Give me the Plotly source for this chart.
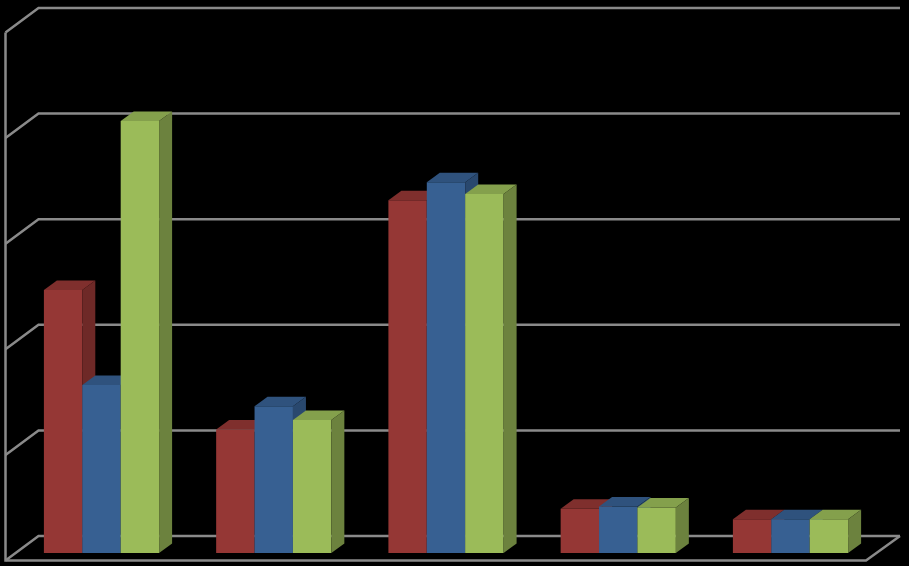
import plotly.graph_objects as go

# Values (axis units; labels are not shown in the reference)
groups = [0, 1, 2, 3, 4]
red_values = [2.49, 1.17, 3.34, 0.42, 0.32]
blue_values = [1.59, 1.39, 3.51, 0.44, 0.32]
green_values = [4.09, 1.26, 3.40, 0.43, 0.32]
tick_values = [0, 1, 2, 3, 4, 5]

W, H = 909, 566
PX_PER_GROUP = 172.25
PX_PER_UNIT = 105.6
X0_PX = 101.5    # pixel of group 0 centre
Y0_PX = 553.0    # pixel of the bar base

BAR_W = 38.4 / PX_PER_GROUP
DEPTH_X = 13.0 / PX_PER_GROUP
DEPTH_Y = 9.5 / PX_PER_UNIT
WALL_LEFT = (5.5 - X0_PX) / PX_PER_GROUP
WALL_BACK_LEFT = (38.5 - X0_PX) / PX_PER_GROUP
WALL_RIGHT = (900.0 - X0_PX) / PX_PER_GROUP
FLOOR_FRONT_RIGHT = (866.0 - X0_PX) / PX_PER_GROUP
Y_FRONT = (Y0_PX - 560.5) / PX_PER_UNIT
Y_BACK = (Y0_PX - 536.0) / PX_PER_UNIT

x_range = [-X0_PX / PX_PER_GROUP, (W - X0_PX) / PX_PER_GROUP]
y_range = [(Y0_PX - H) / PX_PER_UNIT, Y0_PX / PX_PER_UNIT]

GRID = "#8a8a8a"
series = [
    ("Red", red_values, -1.5, "#953735", "#7f2f2d", "#6e2927", "x2", "y2"),
    ("Blue", blue_values, -0.5, "#376092", "#2f527d", "#29486e", "x3", "y3"),
    ("Green", green_values, 0.5, "#9BBB59", "#84a04c", "#6c823e", "x4", "y4"),
]

fig = go.Figure()

# Walls and floor on the lowest axes
for v in tick_values:
    fig.add_trace(go.Scatter(
        x=[WALL_LEFT, WALL_BACK_LEFT, WALL_RIGHT],
        y=[Y_FRONT + v, Y_BACK + v, Y_BACK + v],
        mode="lines", line=dict(color=GRID, width=2.5), showlegend=False, hoverinfo="skip",
    ))
fig.add_trace(go.Scatter(
    x=[WALL_LEFT, WALL_LEFT, FLOOR_FRONT_RIGHT, WALL_RIGHT],
    y=[Y_FRONT + tick_values[-1], Y_FRONT, Y_FRONT, Y_BACK],
    mode="lines", line=dict(color=GRID, width=2.5), showlegend=False, hoverinfo="skip",
))

# One overlaid axes pair per series, so each series paints over the previous one
for name, values, slot, front, top, side, xa, ya in series:
    lefts = [g + slot * BAR_W for g in groups]
    fig.add_trace(go.Bar(
        x=groups, y=values, name=name, width=BAR_W, offset=slot * BAR_W,
        marker=dict(color=front, line=dict(width=0)), xaxis=xa, yaxis=ya, showlegend=False,
    ))
    for left, v in zip(lefts, values):
        right = left + BAR_W
        fig.add_trace(go.Scatter(
            x=[left, right, right + DEPTH_X, left + DEPTH_X, left],
            y=[v, v, v + DEPTH_Y, v + DEPTH_Y, v],
            fill="toself", fillcolor=top, mode="none",
            xaxis=xa, yaxis=ya, showlegend=False, hoverinfo="skip",
        ))
        fig.add_trace(go.Scatter(
            x=[right, right + DEPTH_X, right + DEPTH_X, right, right],
            y=[0, DEPTH_Y, v + DEPTH_Y, v, 0],
            fill="toself", fillcolor=side, mode="none",
            xaxis=xa, yaxis=ya, showlegend=False, hoverinfo="skip",
        ))

hidden = dict(visible=False, showgrid=False, zeroline=False, fixedrange=True)
layout_axes = dict(
    xaxis=dict(range=x_range, domain=[0, 1], **hidden),
    yaxis=dict(range=y_range, domain=[0, 1], **hidden),
)
for n in (2, 3, 4):
    layout_axes[f"xaxis{n}"] = dict(range=x_range, overlaying="x", **hidden)
    layout_axes[f"yaxis{n}"] = dict(range=y_range, overlaying="y", **hidden)

fig.update_layout(
    width=W, height=H, margin=dict(l=0, r=0, t=0, b=0),
    paper_bgcolor="#000000", plot_bgcolor="#000000",
    showlegend=False, **layout_axes,
)
fig.write_html(
    "out.html",
    config={"displayModeBar": False},
    post_script="document.body.style.margin='0';document.body.style.background='#000';",
)
